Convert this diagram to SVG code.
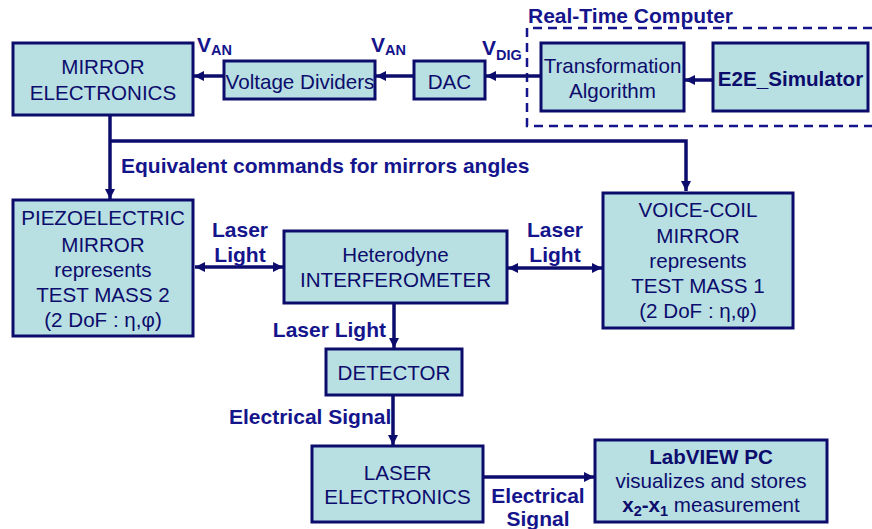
<svg xmlns="http://www.w3.org/2000/svg" width="872" height="529" viewBox="0 0 872 529">
<style>
.box{fill:#b8e0e3;stroke:#0c0c6c;stroke-width:3}
.t{font-family:"Liberation Sans",Arial,sans-serif;font-size:20.6px;fill:#0c0c6c;text-anchor:middle}
.b{font-family:"Liberation Sans",Arial,sans-serif;font-size:21px;font-weight:bold;fill:#14148c}
.c{text-anchor:middle}
.ln{fill:none;stroke:#0c0c6c;stroke-width:3.5}
.sub{font-size:14.5px}
</style>
<defs>
<marker id="ah" viewBox="0 0 10 10" refX="10" refY="5" markerWidth="10" markerHeight="10" markerUnits="userSpaceOnUse" orient="auto-start-reverse">
<path d="M0,0 L10,5 L0,10 z" fill="#0c0c6c"/>
</marker>
</defs>
<g id="realtime">
<path d="M872,28 H527 V126 H872" fill="none" stroke="#14148c" stroke-width="2.5" stroke-dasharray="9,6"/>
<text class="b" x="528" y="23">Real-Time Computer</text>
</g>
<g id="connectors">
<line class="ln" x1="224" y1="76" x2="194" y2="76" marker-end="url(#ah)"/>
<line class="ln" x1="414" y1="76" x2="376" y2="76" marker-end="url(#ah)"/>
<line class="ln" x1="541" y1="76" x2="486" y2="76" marker-end="url(#ah)"/>
<line class="ln" x1="713" y1="80" x2="685" y2="80" marker-end="url(#ah)"/>
<line class="ln" x1="110" y1="115" x2="110" y2="199" marker-end="url(#ah)"/>
<path class="ln" d="M110,141 H686 V191" marker-end="url(#ah)"/>
<line class="ln" x1="195" y1="267" x2="283" y2="267" marker-start="url(#ah)" marker-end="url(#ah)"/>
<line class="ln" x1="508" y1="268" x2="602" y2="268" marker-start="url(#ah)" marker-end="url(#ah)"/>
<line class="ln" x1="394" y1="303" x2="394" y2="348" marker-end="url(#ah)"/>
<line class="ln" x1="393" y1="395" x2="393" y2="445" marker-end="url(#ah)"/>
<line class="ln" x1="483" y1="477" x2="594" y2="477" marker-end="url(#ah)"/>
<text class="b" x="197" y="52">V<tspan class="sub" dy="3">AN</tspan></text>
<text class="b" x="371" y="52">V<tspan class="sub" dy="3">AN</tspan></text>
<text class="b" x="482" y="55">V<tspan class="sub" dy="5">DIG</tspan></text>
<text class="b" x="121" y="173">Equivalent commands for mirrors angles</text>
<text class="b c" x="240" y="237">Laser</text>
<text class="b c" x="240" y="262">Light</text>
<text class="b c" x="555" y="237">Laser</text>
<text class="b c" x="555" y="262">Light</text>
<text class="b" x="386" y="337" text-anchor="end">Laser Light</text>
<text class="b" x="229" y="424">Electrical Signal</text>
<text class="b c" x="538" y="503">Electrical</text>
<text class="b c" x="538" y="526">Signal</text>
</g>
<g id="mirror-electronics">
<rect class="box" x="13" y="43" width="180" height="72"/>
<text class="t" x="103" y="74">MIRROR</text>
<text class="t" x="103" y="100">ELECTRONICS</text>
</g>
<g id="voltage-dividers">
<rect class="box" x="224" y="61" width="151" height="38"/>
<text class="t" x="300" y="89">Voltage Dividers</text>
</g>
<g id="dac">
<rect class="box" x="414" y="61" width="71" height="38"/>
<text class="t" x="449.5" y="89">DAC</text>
</g>
<g id="transformation">
<rect class="box" x="541" y="43" width="143" height="68"/>
<text class="t" x="612.5" y="73">Transformation</text>
<text class="t" x="612.5" y="98">Algorithm</text>
</g>
<g id="e2e">
<rect class="box" x="713" y="43" width="155" height="68"/>
<text class="t" x="790.5" y="86" font-weight="bold">E2E_Simulator</text>
</g>
<g id="piezo">
<rect class="box" x="13" y="200" width="180" height="136"/>
<text class="t" x="103" y="225">PIEZOELECTRIC</text>
<text class="t" x="103" y="252">MIRROR</text>
<text class="t" x="103" y="277">represents</text>
<text class="t" x="103" y="302">TEST MASS 2</text>
<text class="t" x="103" y="327">(2 DoF : η,φ)</text>
</g>
<g id="interferometer">
<rect class="box" x="284" y="231" width="223" height="72"/>
<text class="t" x="395.5" y="262">Heterodyne</text>
<text class="t" x="395.5" y="287">INTERFEROMETER</text>
</g>
<g id="voice-coil">
<rect class="box" x="603" y="193" width="190" height="135"/>
<text class="t" x="698" y="217">VOICE-COIL</text>
<text class="t" x="698" y="243">MIRROR</text>
<text class="t" x="698" y="268">represents</text>
<text class="t" x="698" y="293">TEST MASS 1</text>
<text class="t" x="698" y="318">(2 DoF : η,φ)</text>
</g>
<g id="detector">
<rect class="box" x="326" y="349" width="136" height="46"/>
<text class="t" x="394" y="380">DETECTOR</text>
</g>
<g id="laser-electronics">
<rect class="box" x="312" y="446" width="171" height="76"/>
<text class="t" x="397.5" y="480">LASER</text>
<text class="t" x="397.5" y="504">ELECTRONICS</text>
</g>
<g id="labview">
<rect class="box" x="595" y="440" width="232" height="82"/>
<text class="t" x="711" y="464" font-weight="bold" fill="#14148c">LabVIEW PC</text>
<text class="t" x="711" y="488">visualizes and stores</text>
<text class="t" x="711" y="512"><tspan font-weight="bold">x<tspan class="sub" dy="4">2</tspan><tspan dy="-4">-x</tspan><tspan class="sub" dy="4">1</tspan></tspan><tspan dy="-4"> measurement</tspan></text>
</g>
</svg>
